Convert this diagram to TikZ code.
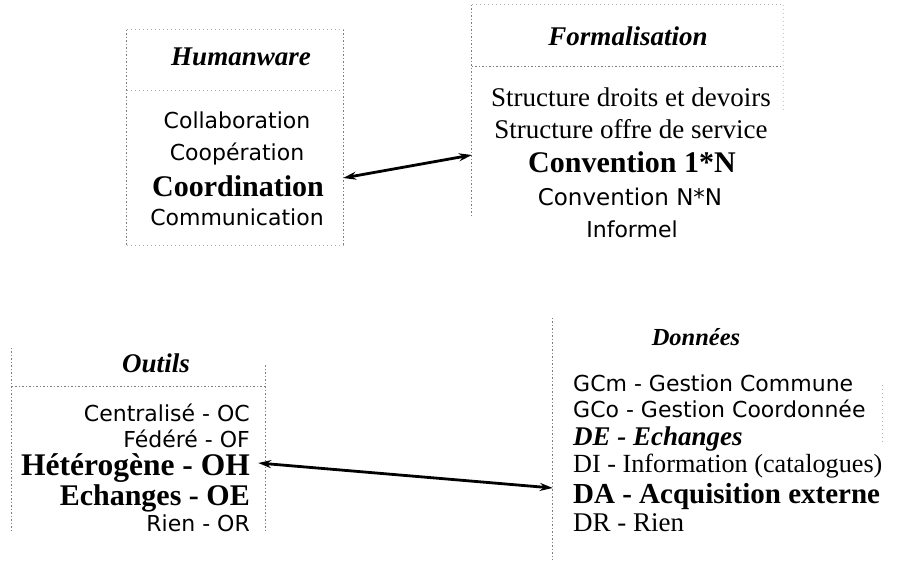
\documentclass[tikz,border=0pt]{standalone}
\usepackage{fontspec}
\setmainfont{Liberation Serif}
\newfontfamily\sansf{DejaVu Sans}
\usetikzlibrary{arrows.meta,calc}
\begin{document}
\begin{tikzpicture}[x=1pt,y=-1pt,
  frame/.style={draw=black!50, line width=0.7pt, dash pattern=on 1.5pt off 2pt},
  faint/.style={draw=black!30, line width=0.6pt, dash pattern=on 1pt off 3pt},
  boxarea/.style={inner sep=0, minimum width=#1},
  ttl/.style={anchor=base, inner sep=0, font=\fontsize{27}{30}\selectfont\bfseries\itshape},
  sn/.style={inner sep=0, font=\fontsize{22}{26}\selectfont\sansf},
  sr/.style={inner sep=0, font=\fontsize{27}{30}\selectfont},
  bd/.style={inner sep=0, font=\fontsize{30}{34}\selectfont\bfseries},
  bi/.style={inner sep=0, font=\fontsize{27}{30}\selectfont\bfseries\itshape},
  link/.style={{Stealth[length=13pt,width=8pt]}-{Stealth[length=13pt,width=8pt]}, line width=2.8pt}
]
\useasboundingbox (0,0) rectangle (910,569);

% box areas
\node[boxarea=216pt, minimum height=215pt] (hum) at (235,137.5) {};
\node[boxarea=311pt, minimum height=210pt] (form) at (627.5,110) {};
\node[boxarea=253pt, minimum height=182pt] (out) at (138.5,439) {};
\node[boxarea=329pt, minimum height=242pt] (don) at (717.5,439) {};

% Humanware frame
\draw[frame] (hum.north west) -- (hum.south west);
\draw[frame] (hum.north east) -- (hum.south east);
\draw[faint] (hum.north west) -- (hum.north east);
\draw[faint] (hum.south west) -- (hum.south east);
\coordinate (hsepL) at (hum.west |- 0,90);
\coordinate (hsepR) at (hum.east |- 0,90);
\draw[faint] (hsepL) -- (hsepR);

% Formalisation frame
\draw[frame] (form.north west) -- (form.south west);
\draw[faint] (form.north west) -- (form.north east);
\draw[faint] (form.north east) -- ($(form.north east)!0.5!(form.south east)$);
\coordinate (fsepL) at (form.west |- 0,66);
\coordinate (fsepR) at (form.east |- 0,66);
\draw[frame] (fsepL) -- (fsepR);

% Outils frame
\draw[frame] (out.north west) -- (out.south west);
\coordinate (osepL) at (out.west |- 0,386);
\coordinate (osepR) at (out.east |- 0,386);
\coordinate (otopR) at (out.east |- 0,365);
\draw[frame] (otopR) -- (out.south east);
\draw[frame] (osepL) -- (osepR);

% Donnees frame
\draw[frame] (don.north west) -- (don.south west);
\coordinate (dr1) at (don.east |- 0,385);
\coordinate (dr2) at (don.east |- 0,445);
\draw[faint] (dr1) -- (dr2);

% Humanware texts
\node[ttl] (t1) at (241,66) {Humanware};
\node[sn, anchor=base] (h1) at (237,129) {Collaboration};
\node[sn, anchor=base] (h2) at (237,161) {Coopération};
\node[bd, anchor=base] (h3) at (238,197) {Coordination};
\node[sn, anchor=base] (h4) at (237,226) {Communication};

% Formalisation texts
\node[ttl] (t2) at (628,46) {Formalisation};
\node[sr, anchor=base] (f1) at (631,107) {Structure droits et devoirs};
\node[sr, anchor=base] (f2) at (631,139) {Structure offre de service};
\node[bd, anchor=base] (f3) at (632,173) {Convention 1*N};
\node[sn, anchor=base, font=\fontsize{23}{26}\selectfont\sansf] (f4) at (630,206) {Convention N*N};
\node[sn, anchor=base] (f5) at (632,238) {Informel};

% Outils texts
\node[ttl] (t3) at (156,372) {Outils};
\node[sn, anchor=base east] (o1) at (250,421) {Centralisé - OC};
\node[sn, anchor=base east] (o2) at (250,447) {Fédéré - OF};
\node[bd, anchor=base east, font=\fontsize{31.5}{34}\selectfont\bfseries] (o3) at (250,475) {Hétérogène - OH};
\node[bd, anchor=base east] (o4) at (250,505) {Echanges - OE};
\node[sn, anchor=base east] (o5) at (250,531) {Rien - OR};

% Donnees texts
\node[ttl, font=\fontsize{24.5}{28}\selectfont\bfseries\itshape] (t4) at (696,345) {Données};
\node[sn, anchor=base west] (d1) at (573,391) {GCm - Gestion Commune};
\node[sn, anchor=base west] (d2) at (573,417) {GCo - Gestion Coordonnée};
\node[bi, anchor=base west] (d3) at (573,445) {DE - Echanges};
\node[sr, anchor=base west, font=\fontsize{26.2}{30}\selectfont] (d4) at (573,472) {DI - Information (catalogues)};
\node[bd, anchor=base west, font=\fontsize{29}{34}\selectfont\bfseries] (d5) at (573,503) {DA - Acquisition externe};
\node[sr, anchor=base west] (d6) at (573,531) {DR - Rien};

% connectors
\coordinate (a1s) at (hum.east |- 0,178);
\coordinate (a1e) at (form.west |- 0,155);
\draw[link] (a1s) -- (a1e);
\coordinate (a2s) at ([xshift=-7pt]out.east |- 0,463);
\coordinate (a2e) at (don.west |- 0,488);
\draw[link] (a2s) -- (a2e);
\end{tikzpicture}
\end{document}
